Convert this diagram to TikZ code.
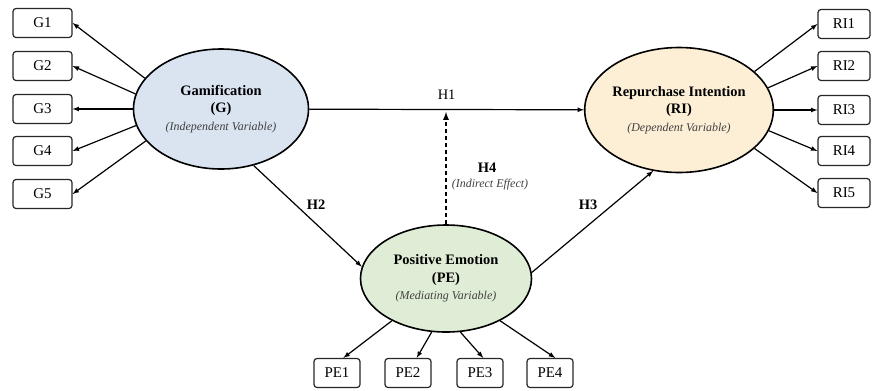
\documentclass[tikz,border=0pt]{standalone}
\usepackage{fontspec}
\setmainfont{Liberation Serif}
\usepackage{tikz}
\usetikzlibrary{calc,shapes,arrows}

\definecolor{gamblue}{HTML}{DAE4F1}
\definecolor{rigold}{HTML}{FDEFD6}
\definecolor{pegreen}{HTML}{E0EDD6}

\newcommand{\vtype}[1]{{\fontsize{12}{14}\selectfont\itshape\color{black!75}(#1)}}

\begin{document}
\begin{tikzpicture}[x=1bp,y=-1bp,
    latent/.style={ellipse,draw,line width=1.6bp,align=center,inner sep=0pt,
        font=\fontsize{14.5}{17.5}\selectfont},
    item/.style={draw=black!85,rounded corners=3bp,line width=1.2bp,
        minimum height=29bp,inner sep=0pt,font=\fontsize{15}{16}\selectfont},
    path/.style={-latex,line width=1.2bp},
    hyp/.style={font=\fontsize{14.5}{16}\selectfont\bfseries}]
    \useasboundingbox (0,0) rectangle (872,390);

    % latent variables
    \node[latent,fill=gamblue,minimum width=175bp,minimum height=120bp] (G) at (221,109)
        {{\bfseries Gamification}\\{\bfseries (G)}\\\vtype{Independent Variable}};
    \node[latent,fill=rigold,minimum width=188bp,minimum height=125bp] (RI) at (679,110)
        {{\bfseries Repurchase Intention}\\{\bfseries (RI)}\\\vtype{Dependent Variable}};
    \node[latent,fill=pegreen,minimum width=171bp,minimum height=107bp] (PE) at (446,278.5)
        {{\bfseries Positive Emotion}\\{\bfseries (PE)}\\\vtype{Mediating Variable}};

    % indicators
    \foreach \i/\y in {1/23,2/66,3/109,4/151,5/194}
        \node[item,minimum width=59bp] (G\i) at (42.5,\y) {G\i};
    \foreach \i/\y in {1/24,2/66,3/110,4/151,5/193}
        \node[item,minimum width=52bp] (RI\i) at (844,\y) {RI\i};
    \foreach \i/\x in {1/337,2/408,3/480,4/550}
        \node[item,minimum width=46bp] (PE\i) at (\x,373) {PE\i};

    \foreach \i/\a in {1/158,2/170,3/180,4/191,5/203}
        \draw[path] (G.\a) -- (G\i.east);
    \foreach \i/\a in {1/27,2/14,3/0,4/347,5/333}
        \draw[path] (RI.\a) -- (RI\i.west);
    \foreach \i/\a/\b in {1/218/67,2/255/60,3/285/78,4/322/71}
        \draw[path] (PE.\a) -- (PE\i.\b);

    % hypotheses
    \draw[path] (G) -- (RI) node[midway,above=6bp,font=\fontsize{14.5}{16}\selectfont] (lH1) {H1};
    \draw[path] (G.300) -- (PE.172);
    \draw[path] (PE.4) -- (RI.247);
    \coordinate (tip) at ($(PE.north |- G.east)+(0,3)$);
    \draw[path,line width=1.7bp,dash pattern=on 4bp off 3bp] (PE.north) -- (tip);

    \node[hyp] (lH2) at (316,205) {H2};
    \node[hyp] (lH3) at (588,205) {H3};
    \node[hyp] (lH4) at (487,168) {H4};
    \node (lH4b) at (490,185) {\vtype{Indirect Effect}};
\end{tikzpicture}
\end{document}
